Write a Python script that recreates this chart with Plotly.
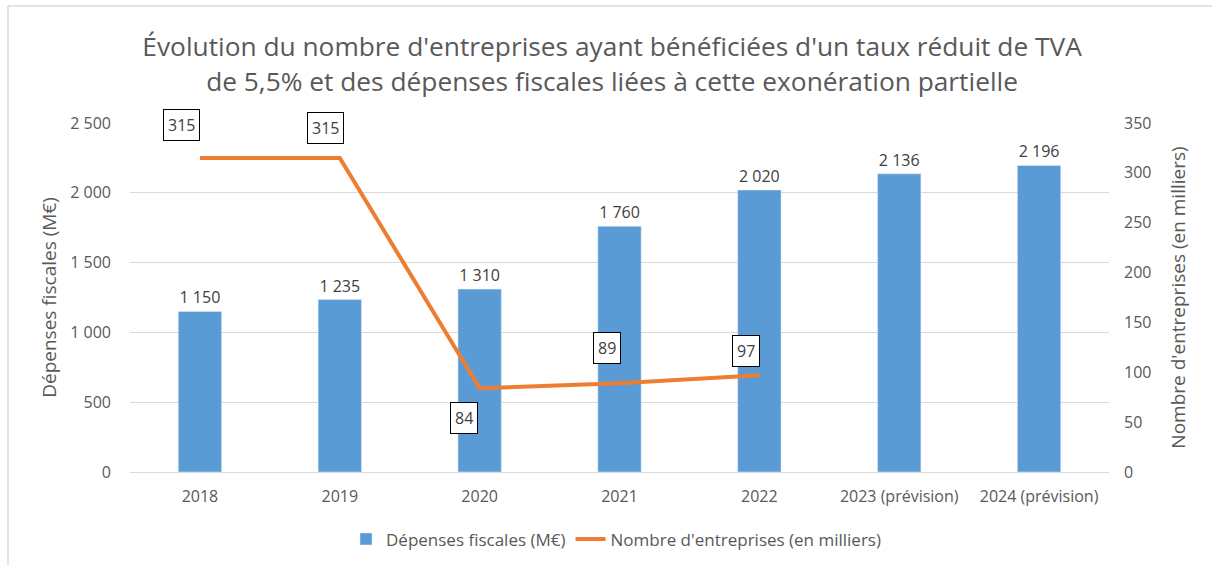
import plotly.graph_objects as go

categories = ["2018", "2019", "2020", "2021", "2022", "2023 (prévision)", "2024 (prévision)"]
depenses = [1150, 1235, 1310, 1760, 2020, 2136, 2196]
entreprises = [315, 315, 84, 89, 97, None, None]

label_shift_x = [-18, -14, -16, -13, -13]
label_shift_y = [33, 30, -30, 35, 24]

FONT = "Open Sans"
GREY = "#595959"

W, H = 1212, 569
L, R, T, B = 130, 103, 123, 94
PW, PH = W - L - R, H - T - B


def px_x(p):
    return (p - L) / PW


def px_y(p):
    return (H - B - p) / PH


fig = go.Figure()
fig.add_trace(go.Bar(
    x=categories, y=depenses, name="Dépenses fiscales (M€)",
    marker=dict(color="#5b9bd5"), width=0.31,
    text=depenses, texttemplate="%{y:,}", textposition="outside",
    textfont=dict(size=16, color="#404040", family=FONT), cliponaxis=False,
))
fig.add_trace(go.Scatter(
    x=categories, y=entreprises, name="Nombre d'entreprises (en milliers)",
    mode="lines", line=dict(color="#ed7d31", width=4), yaxis="y2",
))

for i, v in enumerate(entreprises):
    if v is None:
        continue
    fig.add_annotation(
        x=i, xref="x", y=v, yref="y2", text=str(v), showarrow=False,
        xshift=label_shift_x[i], yshift=label_shift_y[i],
        font=dict(size=16, color="#404040", family=FONT),
        bordercolor="black", borderwidth=1, borderpad=4, bgcolor="white",
    )

fig.update_layout(
    width=W, height=H,
    margin=dict(l=L, r=R, t=T, b=B),
    paper_bgcolor="white", plot_bgcolor="white",
    separators=", ",
    font=dict(family=FONT, color=GREY),
    title=dict(
        text="Évolution du nombre d'entreprises ayant bénéficiées d'un taux réduit de TVA<br>de 5,5% et des dépenses fiscales liées à cette exonération partielle",
        x=0.505, xanchor="center", y=0.901, yanchor="middle",
        font=dict(size=26.3, color=GREY, family=FONT),
    ),
    xaxis=dict(
        type="category", range=[-0.5, len(categories) - 0.5],
        tickfont=dict(size=16, color=GREY), showgrid=False, ticklabelstandoff=10,
        showline=True, linecolor="#d9d9d9", ticks="",
    ),
    yaxis=dict(
        range=[0, 2500], dtick=500, tickformat=",",
        tickfont=dict(size=16, color=GREY), ticklabelstandoff=18,
        gridcolor="#d9d9d9", zeroline=False,
        title=dict(text="Dépenses fiscales (M€)", font=dict(size=19, color=GREY), standoff=8),
    ),
    yaxis2=dict(
        range=[0, 350], dtick=50, overlaying="y", side="right",
        tickfont=dict(size=16, color=GREY), ticklabelstandoff=14,
        showgrid=False, zeroline=False,
        title=dict(text="Nombre d'entreprises (en milliers)", font=dict(size=19, color=GREY), standoff=21),
    ),
    legend=dict(
        orientation="h", x=px_x(616), xanchor="center", y=px_y(543), yanchor="middle",
        font=dict(size=17, color=GREY), traceorder="normal",
    ),
    showlegend=True,
    shapes=[
        dict(type="line", xref="paper", yref="paper",
             x0=px_x(8), x1=px_x(8), y0=px_y(H), y1=px_y(5),
             line=dict(color="#d9d9d9", width=1.5), layer="below"),
        dict(type="line", xref="paper", yref="paper",
             x0=px_x(8), x1=px_x(W), y0=px_y(5), y1=px_y(5),
             line=dict(color="#d9d9d9", width=1.5), layer="below"),
    ],
)

fig.write_html("out.html", config={"displayModeBar": False},
               post_script="document.body.style.margin='0';")
